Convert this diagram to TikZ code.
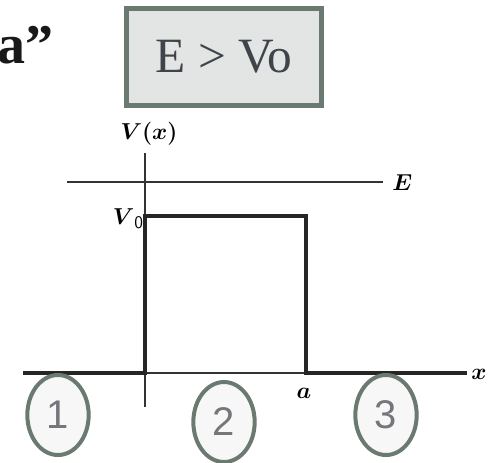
\documentclass[tikz,border=0pt]{standalone}
\usepackage{fontspec}
\usepackage{amsmath}
\setmainfont{Liberation Serif}
\newfontfamily\numfont{Liberation Sans}
\definecolor{ringc}{HTML}{6B7A70}
\definecolor{boxfill}{HTML}{E2E5E4}
\definecolor{txtc}{HTML}{3F434A}
\definecolor{numc}{HTML}{75757C}
\tikzset{
  region/.style={draw=ringc, line width=3pt, fill=white!97!black, ellipse, minimum width=46pt, minimum height=60pt, inner sep=0pt, text=numc, font=\numfont\fontsize{30}{31}\selectfont},
  lbl/.style={inner sep=0pt, font=\fontsize{19}{20}\selectfont},
  thinax/.style={line width=1.2pt, black!80},
  barrier/.style={line width=2.3pt, black!85},
}
\usetikzlibrary{shapes.geometric}
\begin{document}
\begin{tikzpicture}[x=0.75pt,y=-0.75pt]
\useasboundingbox (0,0) rectangle (491,462);
% title fragment
\node[anchor=base east, inner sep=0pt, font=\bfseries\fontsize{42}{43}\selectfont, text=black!90] (ttl) at (54,63) {a”};
% condition box
\node[draw=ringc, line width=3.8pt, fill=boxfill, minimum width=146pt, minimum height=73pt, text=txtc, font=\fontsize{37}{38}\selectfont] (cond) at (224,57) {E > Vo};
% coordinates
\coordinate (ytop) at (145,153);
\coordinate (ybot) at (145,407);
\coordinate (xl) at (23,373);
\coordinate (xr) at (467,373);
\coordinate (el) at (67,182);
\coordinate (er) at (383,182);
\coordinate (b0) at (145,373);
\coordinate (b1) at (145,216);
\coordinate (b2) at (306,216);
\coordinate (b3) at (306,373);
% axes
\draw[thinax] (ytop) -- (ybot);
\draw[thinax] (xl) -- (xr);
\draw[thinax] (el) -- (er);
% barrier
\draw[barrier] (xl) -- (b0) -- (b1) -- (b2) -- (b3) -- (xr);
% labels
\node[lbl] (vx) at (149,134) {$\boldsymbol{V(x)}$};
\node[lbl, anchor=west] (E) at (392,183) {$\boldsymbol{E}$};
\node[lbl, anchor=east] (V0) at (144,219) {$\boldsymbol{V}_{\mathsf{\large 0}}$};
\node[lbl, anchor=west] (xlab) at (471,374) {$\boldsymbol{x}$};
\node[lbl] (alab) at (304,393) {$\boldsymbol{a}$};
% regions
\node[region] (r1) at (58,415) {1};
\node[region] (r2) at (224,422) {2};
\node[region] (r3) at (386,415) {3};
\end{tikzpicture}
\end{document}
